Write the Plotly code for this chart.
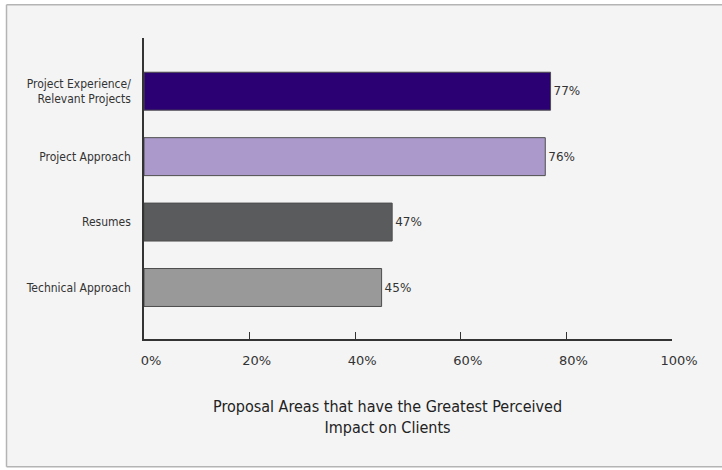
import plotly.graph_objects as go

# Survey results: share of respondents naming each proposal area
categories = ["Project Experience/<br>Relevant Projects", "Project Approach",
              "Resumes", "Technical Approach"]
values = [77, 76, 47, 45]
bar_colors = ["#2b0073", "#ab99cc", "#5a5b5d", "#999999"]
x_ticks = [0, 20, 40, 60, 80, 100]
title_lines = ["Proposal Areas that have the Greatest Perceived", "Impact on Clients"]

NARROW = "Liberation Sans Narrow, DejaVu Sans Condensed, Arial Narrow, sans-serif"
PLAIN = "DejaVu Sans, Verdana, sans-serif"

W, H = 722, 470
L, R, T, B = 143.6, 672.0, 38.3, 339.3  # plot area in pixels


def px_x(p):
    return (p - L) / (R - L)


def px_y(p):
    return (B - p) / (B - T)


frame = dict(color="#b4b4b4", width=1.5)

fig = go.Figure(
    go.Bar(
        x=values,
        y=list(range(len(categories))),
        orientation="h",
        width=0.58,
        marker=dict(color=bar_colors, line=dict(color="#4d4d4d", width=1)),
        text=[f"{v}%" for v in values],
        textposition="outside",
        cliponaxis=False,
        textfont=dict(family=PLAIN, size=12, color="#333333"),
        hoverinfo="skip",
    )
)

fig.update_layout(
    width=W,
    height=H,
    margin=dict(l=L, r=W - R, t=T, b=H - B, pad=0),
    paper_bgcolor="#ffffff",
    plot_bgcolor="rgba(0,0,0,0)",
    showlegend=False,
    xaxis=dict(
        range=[0, 100],
        tickvals=x_ticks,
        ticktext=[f"{t}%" for t in x_ticks],
        ticks="inside",
        ticklen=7,
        tickwidth=1.2,
        tickcolor="#333333",
        showline=True,
        linecolor="#333333",
        linewidth=1.5,
        showgrid=False,
        zeroline=False,
        ticklabelshift=7,
        ticklabelstandoff=9,
        tickfont=dict(family=PLAIN, size=13, color="#333333"),
        fixedrange=True,
    ),
    yaxis=dict(
        range=[3.787, -0.813],
        tickvals=list(range(len(categories))),
        ticktext=categories,
        ticks="",
        showline=True,
        linecolor="#333333",
        linewidth=1.5,
        showgrid=False,
        zeroline=False,
        ticklabelstandoff=9,
        tickfont=dict(family=NARROW, size=12, color="#333333"),
        fixedrange=True,
    ),
    shapes=[
        # panel fill
        dict(
            type="rect", xref="paper", yref="paper", layer="below",
            x0=px_x(6), x1=px_x(770), y0=px_y(467), y1=px_y(5),
            fillcolor="#f4f4f4", line=dict(width=0),
        ),
        # panel frame: left, top and bottom edges
        dict(type="line", xref="paper", yref="paper", layer="below",
             x0=px_x(6), x1=px_x(6), y0=px_y(467), y1=px_y(5), line=frame),
        dict(type="line", xref="paper", yref="paper", layer="below",
             x0=px_x(6), x1=px_x(770), y0=px_y(5), y1=px_y(5), line=frame),
        dict(type="line", xref="paper", yref="paper", layer="below",
             x0=px_x(6), x1=px_x(770), y0=px_y(467), y1=px_y(467), line=frame),
    ],
    annotations=[
        dict(
            text="<br>".join(title_lines),
            xref="paper", yref="paper",
            x=px_x(387.5), y=px_y(417),
            xanchor="center", yanchor="middle",
            showarrow=False,
            font=dict(family=NARROW, size=16, color="#222222"),
        )
    ],
)

fig.write_html("out.html", config={"displayModeBar": False})
